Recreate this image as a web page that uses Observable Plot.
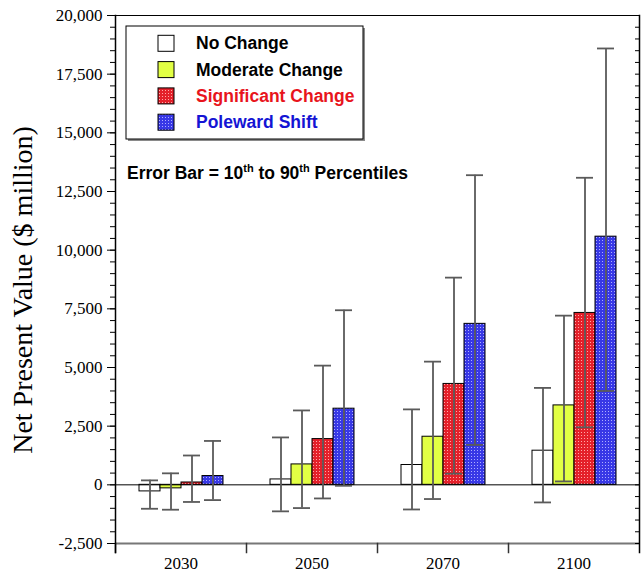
<!DOCTYPE html>
<html><head><meta charset="utf-8">
<script src="https://cdn.jsdelivr.net/npm/d3@7"></script>
<script src="https://cdn.jsdelivr.net/npm/@observablehq/plot@0.6"></script>
<style>
body{margin:0;background:#fff;}
#wrap{position:relative;width:641px;height:575px;}
#wrap svg{position:absolute;left:0;top:0;}
#wrap text{font-family:'Liberation Serif','Times New Roman',serif;}
</style></head><body>
<svg width="0" height="0" style="position:absolute">
<defs>
<pattern id="patRed" width="3" height="3" patternUnits="userSpaceOnUse">
<rect width="3" height="3" fill="#e4202a"/><rect width="1" height="1" fill="#ffa8a8"/>
</pattern>
<pattern id="patBlue" width="3" height="3" patternUnits="userSpaceOnUse">
<rect width="3" height="3" fill="#3838e6"/><rect width="1" height="1" fill="#aeaeff"/>
</pattern>
</defs></svg>
<div id="wrap"></div>
<script>
const years = ["2030", "2050", "2070", "2100"];
const series = ["No Change", "Moderate Change", "Significant Change", "Poleward Shift"];

// Net present value (mean), by year
const valueNoChange    = [-280, 230, 845, 1455];
const valueModerate    = [-150, 870, 2050, 3385];
const valueSignificant = [100, 1950, 4300, 7325];
const valuePoleward    = [375, 3245, 6860, 10575];
// 10th percentiles
const p10NoChange    = [-1020, -1130, -1050, -750];
const p10Moderate    = [-1060, -990, -605, 145];
const p10Significant = [-730, -580, 475, 2450];
const p10Poleward    = [-650, -40, 1700, 4000];
// 90th percentiles
const p90NoChange    = [190, 2020, 3215, 4130];
const p90Moderate    = [490, 3170, 5250, 7210];
const p90Significant = [1250, 5080, 8830, 13085];
const p90Poleward    = [1870, 7440, 13195, 18595];

const yTicks = [-2500, 0, 2500, 5000, 7500, 10000, 12500, 15000, 17500, 20000];
const yMinorTicks = d3.range(-2500, 20001, 500);

const seriesFills = ["white", "#e2ff44", "url(#patRed)", "url(#patBlue)"];
const legendTextColors = ["black", "black", "#e8141c", "#1414d4"];

const values = [valueNoChange, valueModerate, valueSignificant, valuePoleward];
const p10s = [p10NoChange, p10Moderate, p10Significant, p10Poleward];
const p90s = [p90NoChange, p90Moderate, p90Significant, p90Poleward];

const data = [];
years.forEach((yr, i) => series.forEach((s, j) => data.push({
  year: yr, series: s, value: values[j][i], p10: p10s[j][i], p90: p90s[j][i]
})));

const W = 641, H = 575, mt = 15, mb = 32, ml = 113, mr = 1;
const innerH = H - mt - mb;
const errColor = "#5a5a5a";
const serif = "'Liberation Serif','Times New Roman',serif";
const sans = "'Liberation Sans', Arial, sans-serif";

const chart = Plot.plot({
  width: W, height: H, marginLeft: ml, marginRight: mr, marginTop: mt, marginBottom: mb,
  style: {fontFamily: serif, fontSize: "17px", background: "transparent", color: "black", overflow: "visible"},
  fx: {domain: years, padding: 0, axis: null, label: null},
  x: {domain: series, paddingInner: 0, paddingOuter: 1, axis: null},
  y: {domain: [-2500, 20000], axis: null},
  color: {type: "ordinal", domain: series, range: seriesFills},
  marks: [
    Plot.barY(data, {fx: "year", x: "series", y: "value", fill: "series", stroke: "black", strokeWidth: 1}),
    Plot.ruleY([0], {stroke: "black", strokeWidth: 1}),
    Plot.ruleX(data, {fx: "year", x: "series", y1: "p10", y2: "p90", stroke: errColor, strokeWidth: 1.8}),
    Plot.tickY(data, {fx: "year", x: "series", y: "p10", stroke: errColor, strokeWidth: 1.8, insetLeft: 2, insetRight: 2}),
    Plot.tickY(data, {fx: "year", x: "series", y: "p90", stroke: errColor, strokeWidth: 1.8, insetLeft: 2, insetRight: 2}),
    Plot.ruleY([20000], {stroke: "black", strokeWidth: 1}),
    Plot.ruleY([-2500], {stroke: "#777", strokeWidth: 2.2}),
    Plot.frame({anchor: "left", stroke: "#333", strokeWidth: 1.5, insetTop: innerH, insetBottom: -9}),
    Plot.frame({anchor: "left", facetAnchor: "left", stroke: "black", strokeWidth: 1.5, insetBottom: -9}),
    Plot.frame({anchor: "right", facetAnchor: "right", stroke: "black", strokeWidth: 1.5, insetBottom: -9}),
    Plot.axisY({anchor: "left", ticks: yMinorTicks, tickSize: 5, tickFormat: () => "", label: null}),
    Plot.axisY({anchor: "left", ticks: yTicks, tickSize: 8, tickPadding: 5, tickFormat: d => d.toLocaleString("en-US"), label: null, fontSize: 17, fontFamily: serif, fontVariant: "normal"}),
    Plot.axisY({anchor: "right", ticks: yMinorTicks, tickSize: -5, tickFormat: () => "", label: null}),
    Plot.axisFx({anchor: "bottom", tickSize: 0, tickPadding: 13, label: null, fontSize: 17, fontFamily: serif})
  ]
});
document.getElementById("wrap").appendChild(chart);

// Overlay: y-axis title and legend
const ov = d3.select("#wrap").append("svg").attr("width", W).attr("height", H).style("pointer-events", "none");
ov.append("text")
  .attr("transform", "translate(32,290) rotate(-90)")
  .attr("text-anchor", "middle")
  .style("font-family", serif)
  .style("font-size", "28px")
  .text("Net Present Value ($ million)");

const lx = 126, ly = 26, lw = 237, lh = 113;
ov.append("rect").attr("x", lx + 2).attr("y", ly + 2).attr("width", lw).attr("height", lh).attr("fill", "#8a8a8a");
ov.append("rect").attr("x", lx).attr("y", ly).attr("width", lw).attr("height", lh).attr("fill", "white").attr("stroke", "black").attr("stroke-width", 1);
series.forEach((s, i) => {
  const cy = 43.3 + i * 26.3;
  ov.append("rect").attr("x", 158).attr("y", cy - 8).attr("width", 16).attr("height", 16)
    .attr("fill", seriesFills[i]).attr("stroke", "black").attr("stroke-width", 1);
  ov.append("text").attr("x", 196).attr("y", cy + 6)
    .style("font-family", sans).style("font-weight", "bold").style("font-size", "17.5px")
    .attr("fill", legendTextColors[i]).text(s);
});
const et = ov.append("text").attr("x", 127).attr("y", 179)
  .style("font-family", sans).style("font-weight", "bold").style("font-size", "17.5px");
et.append("tspan").text("Error Bar = 10");
et.append("tspan").attr("dy", -7).style("font-size", "11px").text("th");
et.append("tspan").attr("dy", 7).text(" to 90");
et.append("tspan").attr("dy", -7).style("font-size", "11px").text("th");
et.append("tspan").attr("dy", 7).text(" Percentiles");
</script>
</body></html>
